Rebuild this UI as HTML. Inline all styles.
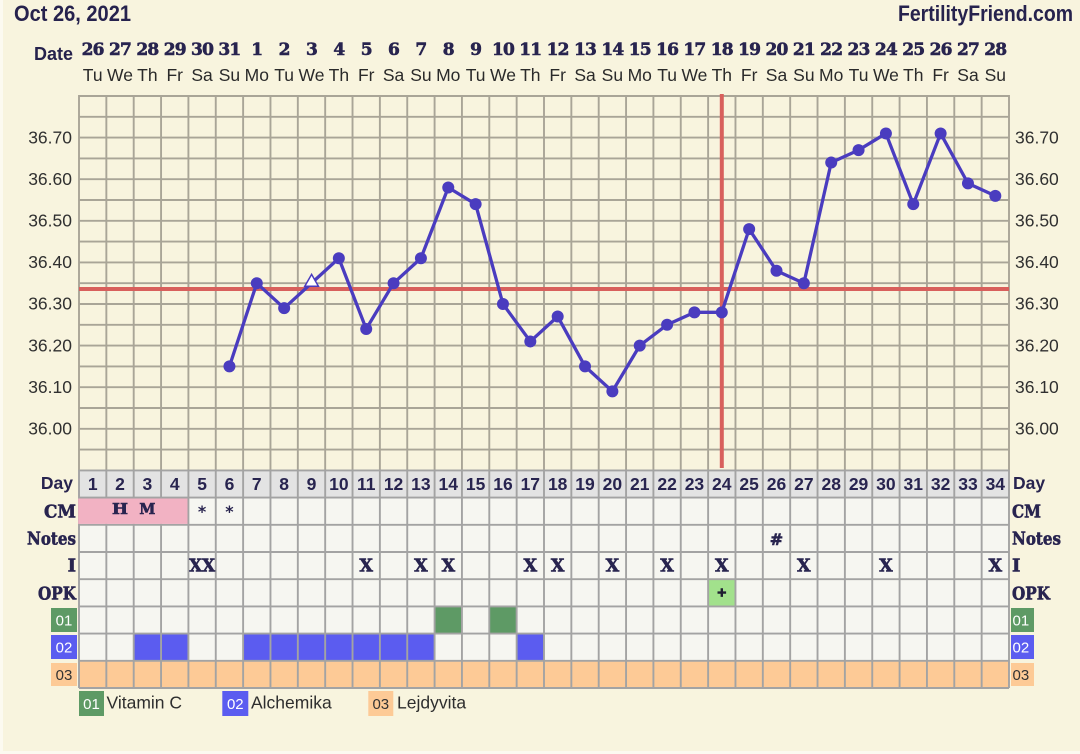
<!DOCTYPE html>
<html><head><meta charset="utf-8"><style>
html,body{margin:0;padding:0;background:#f8f4de;}
svg{display:block;}
.sans{font-family:"Liberation Sans",Arial,sans-serif;}
.serif{font-family:"DejaVu Serif","Liberation Serif",serif;font-weight:bold;}
.emb{stroke:#28244f;stroke-width:0.6;}
</style></head><body>
<svg width="1080" height="754" viewBox="0 0 1080 754" xmlns="http://www.w3.org/2000/svg">
<rect x="0" y="0" width="1080" height="754" fill="#f8f4de"/>
<rect x="0" y="0" width="3" height="754" fill="#fcfaf0"/>
<rect x="0" y="751" width="1080" height="3" fill="#fcfaf0"/>

<!-- Title -->
<text class="sans" x="14" y="21" font-size="22" font-weight="bold" fill="#26224d" textLength="117" lengthAdjust="spacingAndGlyphs">Oct 26, 2021</text>
<text class="sans" x="1073" y="21" font-size="22" font-weight="bold" fill="#26224d" text-anchor="end" textLength="175" lengthAdjust="spacingAndGlyphs">FertilityFriend.com</text>

<!-- Date header -->
<text class="sans" x="73" y="60" font-size="18" font-weight="bold" fill="#26224d" text-anchor="end">Date</text>
<text class="serif emb" y="55" font-size="17" fill="#28244f" text-anchor="middle" letter-spacing="-0.8">
<tspan x="92.68">26</tspan><tspan x="120.03">27</tspan><tspan x="147.38">28</tspan><tspan x="174.74">29</tspan><tspan x="202.09">30</tspan><tspan x="229.44">31</tspan><tspan x="256.79">1</tspan><tspan x="284.15">2</tspan><tspan x="311.50">3</tspan><tspan x="338.85">4</tspan><tspan x="366.21">5</tspan><tspan x="393.56">6</tspan><tspan x="420.91">7</tspan><tspan x="448.26">8</tspan><tspan x="475.62">9</tspan><tspan x="502.97">10</tspan><tspan x="530.32">11</tspan><tspan x="557.68">12</tspan><tspan x="585.03">13</tspan><tspan x="612.38">14</tspan><tspan x="639.74">15</tspan><tspan x="667.09">16</tspan><tspan x="694.44">17</tspan><tspan x="721.79">18</tspan><tspan x="749.15">19</tspan><tspan x="776.50">20</tspan><tspan x="803.85">21</tspan><tspan x="831.21">22</tspan><tspan x="858.56">23</tspan><tspan x="885.91">24</tspan><tspan x="913.26">25</tspan><tspan x="940.62">26</tspan><tspan x="967.97">27</tspan><tspan x="995.32">28</tspan>
</text>
<text class="sans" y="81" font-size="17.5" fill="#2a2a2a" text-anchor="middle">
<tspan x="92.68">Tu</tspan><tspan x="120.03">We</tspan><tspan x="147.38">Th</tspan><tspan x="174.74">Fr</tspan><tspan x="202.09">Sa</tspan><tspan x="229.44">Su</tspan><tspan x="256.79">Mo</tspan><tspan x="284.15">Tu</tspan><tspan x="311.50">We</tspan><tspan x="338.85">Th</tspan><tspan x="366.21">Fr</tspan><tspan x="393.56">Sa</tspan><tspan x="420.91">Su</tspan><tspan x="448.26">Mo</tspan><tspan x="475.62">Tu</tspan><tspan x="502.97">We</tspan><tspan x="530.32">Th</tspan><tspan x="557.68">Fr</tspan><tspan x="585.03">Sa</tspan><tspan x="612.38">Su</tspan><tspan x="639.74">Mo</tspan><tspan x="667.09">Tu</tspan><tspan x="694.44">We</tspan><tspan x="721.79">Th</tspan><tspan x="749.15">Fr</tspan><tspan x="776.50">Sa</tspan><tspan x="803.85">Su</tspan><tspan x="831.21">Mo</tspan><tspan x="858.56">Tu</tspan><tspan x="885.91">We</tspan><tspan x="913.26">Th</tspan><tspan x="940.62">Fr</tspan><tspan x="967.97">Sa</tspan><tspan x="995.32">Su</tspan>
</text>

<!-- Table backgrounds -->
<rect x="79" y="470.4" width="930" height="217.6" fill="#f6f6f1"/>
<rect x="79" y="470.4" width="930" height="27.2" fill="#e3e3e3"/>
<rect x="708.12" y="579.2" width="27.35" height="27.2" fill="#a2e18c"/>
<rect x="434.59" y="606.4" width="27.35" height="27.2" fill="#5e9a65"/>
<rect x="489.29" y="606.4" width="27.36" height="27.2" fill="#5e9a65"/>
<rect x="133.71" y="633.6" width="54.7" height="27.2" fill="#5b5cf0"/>
<rect x="243.12" y="633.6" width="191.47" height="27.2" fill="#5b5cf0"/>
<rect x="516.65" y="633.6" width="27.35" height="27.2" fill="#5b5cf0"/>
<rect x="79" y="660.8" width="930" height="27.2" fill="#fdca96"/>

<!-- Temp grid -->
<path fill="none" stroke="#a9a597" stroke-width="1.9" d="M79 96H1009M79 116.8H1009M79 137.6H1009M79 158.4H1009M79 179.2H1009M79 200H1009M79 220.8H1009M79 241.6H1009M79 262.4H1009M79 283.2H1009M79 304H1009M79 324.8H1009M79 345.6H1009M79 366.4H1009M79 387.2H1009M79 408H1009M79 428.8H1009M79 449.6H1009"/>
<path fill="none" stroke="#a9a597" stroke-width="1.9" d="M79 95V470M106.35 95V470M133.71 95V470M161.06 95V470M188.41 95V470M215.76 95V470M243.12 95V470M270.47 95V470M297.82 95V470M325.18 95V470M352.53 95V470M379.88 95V470M407.24 95V470M434.59 95V470M461.94 95V470M489.29 95V470M516.65 95V470M544 95V470M571.35 95V470M598.71 95V470M626.06 95V470M653.41 95V470M680.76 95V470M708.12 95V470M735.47 95V470M762.82 95V470M790.18 95V470M817.53 95V470M844.88 95V470M872.24 95V470M899.59 95V470M926.94 95V470M954.29 95V470M981.65 95V470M1009 95V470"/>
<!-- Table grid -->
<path fill="none" stroke="#a3a3a3" stroke-width="1.9" d="M79 470.4H1009M79 497.6H1009M79 524.8H1009M79 552H1009M79 579.2H1009M79 606.4H1009M79 633.6H1009M79 660.8H1009M79 688H1009"/>
<path fill="none" stroke="#a3a3a3" stroke-width="1.9" d="M79 470V688M106.35 470V688M133.71 470V688M161.06 470V688M188.41 470V688M215.76 470V688M243.12 470V688M270.47 470V688M297.82 470V688M325.18 470V688M352.53 470V688M379.88 470V688M407.24 470V688M434.59 470V688M461.94 470V688M489.29 470V688M516.65 470V688M544 470V688M571.35 470V688M598.71 470V688M626.06 470V688M653.41 470V688M680.76 470V688M708.12 470V688M735.47 470V688M762.82 470V688M790.18 470V688M817.53 470V688M844.88 470V688M872.24 470V688M899.59 470V688M926.94 470V688M954.29 470V688M981.65 470V688M1009 470V688"/>
<!-- Pink CM -->
<rect x="78.2" y="498.5" width="109.3" height="25.4" fill="#f2b2c3"/>

<!-- Temp labels -->
<text class="sans" font-size="17.5" fill="#303030" text-anchor="end">
<tspan x="72" y="143.3">36.70</tspan><tspan x="72" y="184.9">36.60</tspan><tspan x="72" y="226.5">36.50</tspan><tspan x="72" y="268.1">36.40</tspan><tspan x="72" y="309.7">36.30</tspan><tspan x="72" y="351.3">36.20</tspan><tspan x="72" y="392.9">36.10</tspan><tspan x="72" y="434.5">36.00</tspan>
</text>
<text class="sans" font-size="17.5" fill="#303030">
<tspan x="1015" y="143.3">36.70</tspan><tspan x="1015" y="184.9">36.60</tspan><tspan x="1015" y="226.5">36.50</tspan><tspan x="1015" y="268.1">36.40</tspan><tspan x="1015" y="309.7">36.30</tspan><tspan x="1015" y="351.3">36.20</tspan><tspan x="1015" y="392.9">36.10</tspan><tspan x="1015" y="434.5">36.00</tspan>
</text>

<!-- Day numbers -->
<text class="sans" y="490" font-size="17.5" font-weight="bold" fill="#28244f" text-anchor="middle">
<tspan x="92.68">1</tspan><tspan x="120.03">2</tspan><tspan x="147.38">3</tspan><tspan x="174.74">4</tspan><tspan x="202.09">5</tspan><tspan x="229.44">6</tspan><tspan x="256.79">7</tspan><tspan x="284.15">8</tspan><tspan x="311.50">9</tspan><tspan x="338.85">10</tspan><tspan x="366.21">11</tspan><tspan x="393.56">12</tspan><tspan x="420.91">13</tspan><tspan x="448.26">14</tspan><tspan x="475.62">15</tspan><tspan x="502.97">16</tspan><tspan x="530.32">17</tspan><tspan x="557.68">18</tspan><tspan x="585.03">19</tspan><tspan x="612.38">20</tspan><tspan x="639.74">21</tspan><tspan x="667.09">22</tspan><tspan x="694.44">23</tspan><tspan x="721.79">24</tspan><tspan x="749.15">25</tspan><tspan x="776.50">26</tspan><tspan x="803.85">27</tspan><tspan x="831.21">28</tspan><tspan x="858.56">29</tspan><tspan x="885.91">30</tspan><tspan x="913.26">31</tspan><tspan x="940.62">32</tspan><tspan x="967.97">33</tspan><tspan x="995.32">34</tspan>
</text>

<!-- Row labels left -->
<text class="sans" x="73" y="489" font-size="17.5" font-weight="bold" fill="#28244f" text-anchor="end">Day</text>
<text class="serif emb" x="76" y="517.5" font-size="18" fill="#28244f" text-anchor="end" textLength="32" lengthAdjust="spacingAndGlyphs">CM</text>
<text class="serif emb" x="76" y="544.5" font-size="18" fill="#28244f" text-anchor="end" textLength="49" lengthAdjust="spacingAndGlyphs">Notes</text>
<text class="serif emb" x="76" y="571.7" font-size="18" fill="#28244f" text-anchor="end">I</text>
<text class="serif emb" x="76" y="599.3" font-size="18" fill="#28244f" text-anchor="end" textLength="38" lengthAdjust="spacingAndGlyphs">OPK</text>
<!-- Row labels right -->
<text class="sans" x="1013" y="489" font-size="17.5" font-weight="bold" fill="#28244f">Day</text>
<text class="serif emb" x="1012" y="517.5" font-size="18" fill="#28244f" textLength="29" lengthAdjust="spacingAndGlyphs">CM</text>
<text class="serif emb" x="1012" y="544.5" font-size="18" fill="#28244f" textLength="49" lengthAdjust="spacingAndGlyphs">Notes</text>
<text class="serif emb" x="1012" y="571.7" font-size="18" fill="#28244f">I</text>
<text class="serif emb" x="1012" y="599.3" font-size="18" fill="#28244f" textLength="38" lengthAdjust="spacingAndGlyphs">OPK</text>

<!-- Label boxes -->
<rect x="51" y="608" width="26" height="24" fill="#5e9a65"/>
<rect x="51" y="635" width="26" height="24" fill="#5b5cf0"/>
<rect x="51" y="663" width="26" height="23" fill="#fdca96"/>
<rect x="1011" y="608" width="23" height="24" fill="#5e9a65"/>
<rect x="1011" y="635" width="23" height="24" fill="#5b5cf0"/>
<rect x="1011" y="663" width="23" height="23" fill="#fdca96"/>
<text class="sans" font-size="15" text-anchor="middle">
<tspan x="64" y="625.5" fill="#ffffff">01</tspan><tspan x="64" y="652.5" fill="#ffffff">02</tspan><tspan x="64" y="680" fill="#333333">03</tspan>
</text>
<text class="sans" font-size="15">
<tspan x="1012.5" y="625.5" fill="#ffffff">01</tspan><tspan x="1012.5" y="652.5" fill="#ffffff">02</tspan><tspan x="1012.5" y="680" fill="#333333">03</tspan>
</text>

<!-- Cell contents -->
<text class="serif emb" x="120.03" y="514" font-size="15" fill="#28244f" text-anchor="middle" textLength="16" lengthAdjust="spacingAndGlyphs">H</text>
<text class="serif emb" x="147.38" y="514" font-size="15" fill="#28244f" text-anchor="middle" textLength="16" lengthAdjust="spacingAndGlyphs">M</text>
<text x="202.09" y="517" font-size="16" font-weight="bold" fill="#28244f" text-anchor="middle" font-family="DejaVu Sans, sans-serif">*</text>
<text x="229.44" y="517" font-size="16" font-weight="bold" fill="#28244f" text-anchor="middle" font-family="DejaVu Sans, sans-serif">*</text>
<text class="serif emb" x="776.5" y="545" font-size="16" fill="#28244f" text-anchor="middle">#</text>
<text class="serif emb" x="202.09" y="571.5" font-size="17.5" fill="#28244f" text-anchor="middle" textLength="26" lengthAdjust="spacingAndGlyphs">XX</text>
<text class="serif emb" y="571.5" font-size="17.5" fill="#28244f" text-anchor="middle">
<tspan x="366.21">X</tspan><tspan x="420.91">X</tspan><tspan x="448.26">X</tspan><tspan x="530.32">X</tspan><tspan x="557.68">X</tspan><tspan x="612.38">X</tspan><tspan x="667.09">X</tspan><tspan x="721.79">X</tspan><tspan x="803.85">X</tspan><tspan x="885.91">X</tspan><tspan x="995.32">X</tspan>
</text>
<path d="M717.5 592.6H726.1M721.8 588.3V596.9" stroke="#1e1e30" stroke-width="2.4" fill="none"/>

<!-- Legend -->
<rect x="79" y="691" width="25" height="25" fill="#5e9a65"/>
<rect x="222.3" y="691" width="26" height="25" fill="#5b5cf0"/>
<rect x="368.3" y="691" width="25" height="25" fill="#fdca96"/>
<text class="sans" font-size="15" text-anchor="middle">
<tspan x="91.5" y="709" fill="#ffffff">01</tspan><tspan x="235.3" y="709" fill="#ffffff">02</tspan><tspan x="380.8" y="709" fill="#333333">03</tspan>
</text>
<text class="sans" font-size="17.5" fill="#2e2e2e">
<tspan x="106.5" y="708.3">Vitamin C</tspan><tspan x="251" y="708.3">Alchemika</tspan><tspan x="397" y="708.3">Lejdyvita</tspan>
</text>

<!-- Coverline & ovulation -->
<line x1="79" y1="289" x2="1009" y2="289" stroke="#d8605c" stroke-width="4"/>
<line x1="721.8" y1="94" x2="721.8" y2="468" stroke="#d8605c" stroke-width="4"/>

<!-- Temperature data -->
<polyline fill="none" stroke="#4a3cbf" stroke-width="3.3" stroke-linejoin="round" points="229.44,366.4 256.79,283.2 284.15,308.16 311.50,283.2 338.85,258.24 366.21,328.96 393.56,283.2 420.91,258.24 448.26,187.52 475.62,204.16 502.97,304 530.32,341.44 557.68,316.48 585.03,366.4 612.38,391.36 639.74,345.6 667.09,324.8 694.44,312.32 721.79,312.32 749.15,229.12 776.50,270.72 803.85,283.2 831.21,162.56 858.56,150.08 885.91,133.44 913.26,204.16 940.62,133.44 967.97,183.36 995.32,195.84"/>
<g fill="#4a3cbf">
<circle cx="229.44" cy="366.4" r="6"/><circle cx="256.79" cy="283.2" r="6"/><circle cx="284.15" cy="308.16" r="6"/><circle cx="338.85" cy="258.24" r="6"/><circle cx="366.21" cy="328.96" r="6"/><circle cx="393.56" cy="283.2" r="6"/><circle cx="420.91" cy="258.24" r="6"/><circle cx="448.26" cy="187.52" r="6"/><circle cx="475.62" cy="204.16" r="6"/><circle cx="502.97" cy="304" r="6"/><circle cx="530.32" cy="341.44" r="6"/><circle cx="557.68" cy="316.48" r="6"/><circle cx="585.03" cy="366.4" r="6"/><circle cx="612.38" cy="391.36" r="6"/><circle cx="639.74" cy="345.6" r="6"/><circle cx="667.09" cy="324.8" r="6"/><circle cx="694.44" cy="312.32" r="6"/><circle cx="721.79" cy="312.32" r="6"/><circle cx="749.15" cy="229.12" r="6"/><circle cx="776.50" cy="270.72" r="6"/><circle cx="803.85" cy="283.2" r="6"/><circle cx="831.21" cy="162.56" r="6"/><circle cx="858.56" cy="150.08" r="6"/><circle cx="885.91" cy="133.44" r="6"/><circle cx="913.26" cy="204.16" r="6"/><circle cx="940.62" cy="133.44" r="6"/><circle cx="967.97" cy="183.36" r="6"/><circle cx="995.32" cy="195.84" r="6"/>
</g>
<polygon points="311.6,274.4 304.8,286.2 318.4,286.2" fill="#ffffff" stroke="#4a3cbf" stroke-width="1.5"/>
</svg>
</body></html>
